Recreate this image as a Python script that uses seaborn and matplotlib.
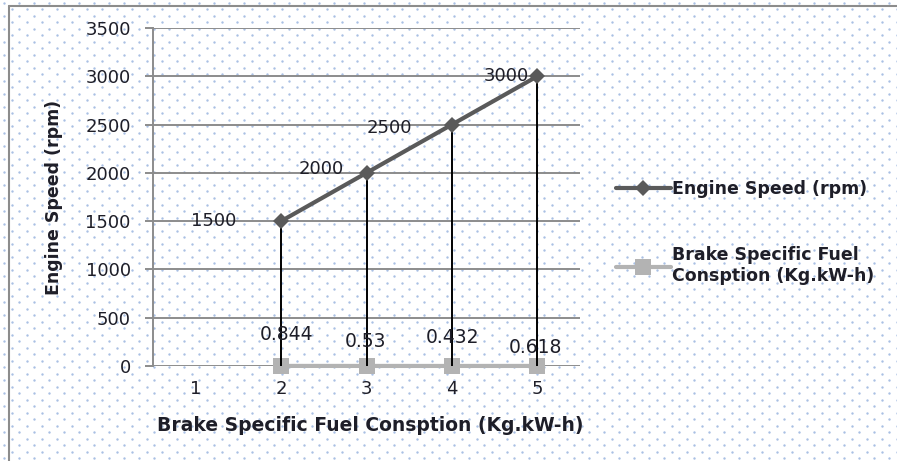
import numpy as np
import pandas as pd
import matplotlib
matplotlib.use('Agg')
import matplotlib.pyplot as plt
import seaborn as sns
from matplotlib.lines import Line2D

# Data
categories = [1, 2, 3, 4, 5]
engine_speed = [np.nan, 1500, 2000, 2500, 3000]
bsfc = [np.nan, 0.844, 0.53, 0.432, 0.618]
yticks = [0, 500, 1000, 1500, 2000, 2500, 3000, 3500]

# label placement (pixels, like the Excel chart had them)
speed_lbl_dx = [0, -45, -23, -40, -8]
speed_lbl_dy = [0, 0, 4, -3, 0]
bsfc_lbl_dx = [0, 5, -1, 1, -2]
bsfc_lbl_dy = [0, 31, 24, 28, 18]

df = pd.DataFrame({'cat': categories, 'speed': engine_speed, 'bsfc': bsfc})

sns.set_style('white')
plt.rcParams['font.family'] = ['DejaVu Sans']
txt = '#1e1e28'

W, H = 897, 461
fig = plt.figure(figsize=(W / 100, H / 100), dpi=100)

# dotted chart-area texture (staggered grid of tiny dots)
bgax = fig.add_axes([0, 0, 1, 1], zorder=-5)
bgax.set_xlim(0, W)
bgax.set_ylim(H, 0)
bgax.axis('off')
rows = np.arange(3, H, 6.5)
for i, yy in enumerate(rows):
    xs = np.arange(4 + (7.5 if i % 2 else 0), W, 15)
    bgax.scatter(xs, np.full_like(xs, yy), s=3, color='#a9c0e4', linewidths=0)
fig.lines.append(Line2D([9 / W, 9 / W], [0, 1 - 6 / H], transform=fig.transFigure,
                        color='#8c8c8c', linewidth=1.5))
fig.lines.append(Line2D([9 / W, 1], [1 - 6 / H, 1 - 6 / H], transform=fig.transFigure,
                        color='#8c8c8c', linewidth=1.5))

ax = fig.add_axes([153 / W, 95 / H, 427 / W, 338 / H])
ax.patch.set_alpha(0)

# drop lines from points to the axis
ax.vlines(df['cat'], 0, df['speed'], color='black', linewidth=1.4, zorder=3)

sns.lineplot(data=df, x='cat', y='speed', ax=ax, color='#5a5a5a', linewidth=3,
             marker='D', markersize=8, markeredgewidth=0, zorder=4,
             label='Engine Speed (rpm)')
sns.lineplot(data=df, x='cat', y='bsfc', ax=ax, color='#b3b3b3', linewidth=3,
             marker='s', markersize=11, markeredgewidth=0, zorder=2, clip_on=False,
             label='Brake Specific Fuel\nConsption (Kg.kW-h)')

for x, v, dx, dy in zip(categories, engine_speed, speed_lbl_dx, speed_lbl_dy):
    if not np.isnan(v):
        ax.annotate(f'{v:.0f}', (x, v), xytext=(dx, dy), textcoords='offset pixels',
                    ha='right', va='center', fontsize=13, color=txt)
for x, v, dx, dy in zip(categories, bsfc, bsfc_lbl_dx, bsfc_lbl_dy):
    if not np.isnan(v):
        ax.annotate(f'{v:g}', (x, v), xytext=(dx, dy), textcoords='offset pixels',
                    ha='center', va='center', fontsize=13.5, color=txt)

ax.set_xlim(0.5, 5.5)
ax.set_ylim(0, 3500)
ax.set_yticks(yticks)
ax.set_xticks(categories)
ax.yaxis.grid(True, color='#8c8c8c', linewidth=1.4)
ax.set_axisbelow(True)
for s in ['top', 'right', 'bottom']:
    ax.spines[s].set_visible(False)
ax.spines['left'].set_color('#8c8c8c')
ax.spines['left'].set_linewidth(1.4)
ax.tick_params(axis='y', length=6, width=1.4, color='#8c8c8c', labelsize=13,
               labelcolor=txt, pad=10, left=True)
ax.tick_params(axis='x', length=0, labelsize=13, labelcolor=txt, pad=10)

ax.set_xlabel('Brake Specific Fuel Consption (Kg.kW-h)', fontsize=13.5,
              fontweight='bold', color=txt)
ax.set_ylabel('Engine Speed (rpm)', fontsize=12.5, fontweight='bold', color=txt)
ax.xaxis.set_label_coords(0.508, -0.148)
ax.yaxis.set_label_coords(-0.21, 0.5)

leg = ax.legend(loc='upper left', bbox_to_anchor=(600 / W, 297 / H),
                bbox_transform=fig.transFigure, frameon=False,
                prop={'weight': 'bold', 'size': 12.5},
                handlelength=3.2, handletextpad=0.05, labelspacing=2.8)
for t in leg.get_texts():
    t.set_color(txt)

fig.savefig('out.png', dpi=100)
